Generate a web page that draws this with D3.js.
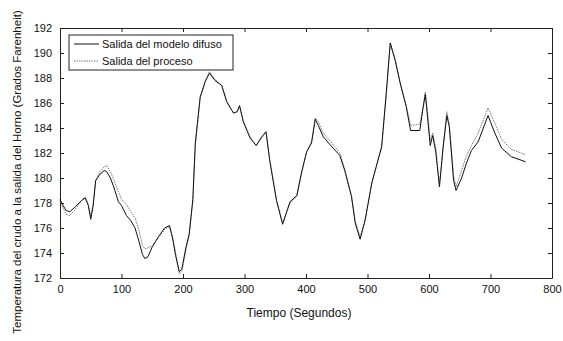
<!DOCTYPE html>
<html>
<head>
<meta charset="utf-8">
<script src="https://cdn.jsdelivr.net/npm/d3@7"></script>
<style>
  html, body { margin: 0; padding: 0; background: #fff; }
  svg { display: block; font-family: "Liberation Sans", Arial, sans-serif; }
</style>
</head>
<body>
<svg id="chart" width="563" height="341"></svg>
<script>
// Oven outlet temperature: fuzzy model output vs. measured process output
const tiempo = [0, 5, 10, 16, 25, 35, 41, 46, 50, 54, 58, 65, 72, 76, 82, 88, 95, 100, 108, 115,
  122, 128, 134, 138, 143, 150, 160, 170, 178, 183, 188, 194, 198, 205, 210, 216, 220, 228, 236, 243,
  252, 263, 271, 282, 288, 292, 298, 309, 319, 328, 335, 341, 352, 362, 374, 385, 393, 401, 409, 415,
  420, 428, 442, 455, 463, 474, 480, 488, 496, 507, 518, 523, 530, 537, 545, 553, 563, 570, 585, 590,
  594, 597, 602, 606, 611, 617, 623, 629, 633, 640, 644, 653, 661, 669, 680, 696, 707, 718, 734, 757];

const salidaModelo = [178.3, 177.8, 177.4, 177.3, 177.7, 178.2, 178.4, 177.8, 176.7, 177.8, 179.8, 180.3, 180.6, 180.5, 180.0, 179.2, 178.1, 177.8, 177.0, 176.6,
  176.0, 175.0, 173.9, 173.55, 173.7, 174.5, 175.3, 176.0, 176.2, 175.2, 173.8, 172.5, 172.7, 174.5, 175.5, 178.3, 182.8, 186.5, 187.7, 188.4,
  187.8, 187.4, 186.1, 185.2, 185.3, 185.8, 184.5, 183.2, 182.6, 183.3, 183.7, 181.4, 178.2, 176.3, 178.1, 178.6, 180.5, 182.1, 182.8, 184.7,
  184.2, 183.3, 182.5, 181.8, 180.6, 178.5, 176.4, 175.1, 176.6, 179.6, 181.6, 182.5, 186.5, 190.8, 189.4, 187.6, 185.7, 183.8, 183.8, 185.5,
  186.7, 185.2, 182.6, 183.4, 182.1, 179.3, 182.5, 185.0, 184.1, 179.8, 179.0, 180.0, 181.2, 182.2, 182.9, 185.0, 183.6, 182.4, 181.7, 181.3];

const salidaProceso = [178.2, 177.6, 177.1, 177.0, 177.5, 178.2, 178.5, 177.9, 176.9, 178.0, 179.8, 180.5, 180.9, 181.0, 180.5, 179.8, 178.9, 178.3, 177.9, 177.3,
  176.8, 175.9, 174.6, 174.35, 174.4, 174.6, 175.2, 175.9, 176.1, 175.3, 174.0, 172.3, 172.5, 174.3, 175.4, 178.1, 182.6, 186.4, 187.7, 188.5,
  187.9, 187.4, 186.2, 185.2, 185.3, 185.7, 184.6, 183.3, 182.6, 183.2, 183.7, 181.5, 178.3, 176.4, 178.0, 178.5, 180.4, 182.1, 182.9, 184.8,
  184.5, 183.6, 182.8, 182.0, 180.7, 178.6, 176.6, 175.3, 176.6, 179.6, 181.6, 182.5, 186.3, 190.8, 189.5, 187.7, 185.8, 184.2, 184.3, 185.6,
  186.9, 185.6, 183.0, 183.6, 182.4, 179.5, 182.4, 185.3, 184.3, 180.2, 179.3, 180.6, 181.8, 182.6, 183.6, 185.6, 184.4, 183.1, 182.3, 181.85];

const ticksX = [0, 100, 200, 300, 400, 500, 600, 700, 800];
const ticksY = [172, 174, 176, 178, 180, 182, 184, 186, 188, 190, 192];
const nombresSeries = ["Salida del modelo difuso", "Salida del proceso"];
const tituloX = "Tiempo (Segundos)";
const tituloY = "Temperatura del crudo a la salida del Horno (Grados Farenheit)";

const svg = d3.select("#chart");
const margin = { left: 60, right: 11, top: 28, bottom: 63 };
const W = 563, H = 341;
const plotW = W - margin.left - margin.right;
const plotH = H - margin.top - margin.bottom;

const x = d3.scaleLinear().domain([0, 800]).range([margin.left, margin.left + plotW]);
const y = d3.scaleLinear().domain([172, 192]).range([margin.top + plotH, margin.top]);

const tickLen = 4;
const axisColor = "#222";

// Box-style axes with inward ticks on all four sides
const gBottom = svg.append("g").attr("transform", `translate(0,${y(172)})`)
  .call(d3.axisBottom(x).tickValues(ticksX).tickSizeInner(-tickLen).tickSizeOuter(0).tickPadding(7));
const gTop = svg.append("g").attr("transform", `translate(0,${y(192)})`)
  .call(d3.axisTop(x).tickValues(ticksX).tickSizeInner(-tickLen).tickSizeOuter(0).tickFormat(""));
const gLeft = svg.append("g").attr("transform", `translate(${x(0)},0)`)
  .call(d3.axisLeft(y).tickValues(ticksY).tickSizeInner(-tickLen).tickSizeOuter(0).tickPadding(8));
const gRight = svg.append("g").attr("transform", `translate(${x(800)},0)`)
  .call(d3.axisRight(y).tickValues(ticksY).tickSizeInner(-tickLen).tickSizeOuter(0).tickFormat(""));

[gBottom, gTop, gLeft, gRight].forEach(g => {
  g.select(".domain").attr("stroke", axisColor).attr("stroke-width", 1);
  g.selectAll(".tick line").attr("stroke", axisColor);
  g.selectAll(".tick text").attr("fill", "#111").style("font-size", "11px")
    .style("font-family", "'Liberation Sans', Arial, sans-serif");
});

// Series lines
const linea = vals => d3.line()
  .x((d, i) => x(tiempo[i]))
  .y(d => y(d))(vals);

svg.append("path")
  .attr("d", linea(salidaProceso))
  .attr("fill", "none")
  .attr("stroke", "#777")
  .attr("stroke-width", 1)
  .attr("stroke-dasharray", "1.5,1");

svg.append("path")
  .attr("d", linea(salidaModelo))
  .attr("fill", "none")
  .attr("stroke", "#111")
  .attr("stroke-width", 1);

// Legend
const leg = svg.append("g").attr("transform", "translate(69,35)");
leg.append("rect").attr("width", 164).attr("height", 35)
  .attr("fill", "#fff").attr("stroke", axisColor).attr("stroke-width", 1);
const filas = [
  { nombre: nombresSeries[0], color: "#111", dash: null, dy: 9 },
  { nombre: nombresSeries[1], color: "#777", dash: "1.5,1", dy: 26 }
];
filas.forEach(f => {
  leg.append("line").attr("x1", 5).attr("x2", 30).attr("y1", f.dy).attr("y2", f.dy)
    .attr("stroke", f.color).attr("stroke-width", 1).attr("stroke-dasharray", f.dash);
  leg.append("text").attr("x", 33).attr("y", f.dy).attr("dy", "0.35em")
    .style("font-size", "11px").attr("fill", "#111").text(f.nombre);
});

// Axis titles
svg.append("text").attr("x", 299).attr("y", 313).attr("dy", "0.35em")
  .attr("text-anchor", "middle").style("font-size", "12px").attr("fill", "#111").text(tituloX);
svg.append("text").attr("transform", "translate(17,172) rotate(-90)")
  .attr("dy", "0.35em").attr("text-anchor", "middle")
  .style("font-size", "11.5px").attr("fill", "#111").text(tituloY);
</script>
</body>
</html>
